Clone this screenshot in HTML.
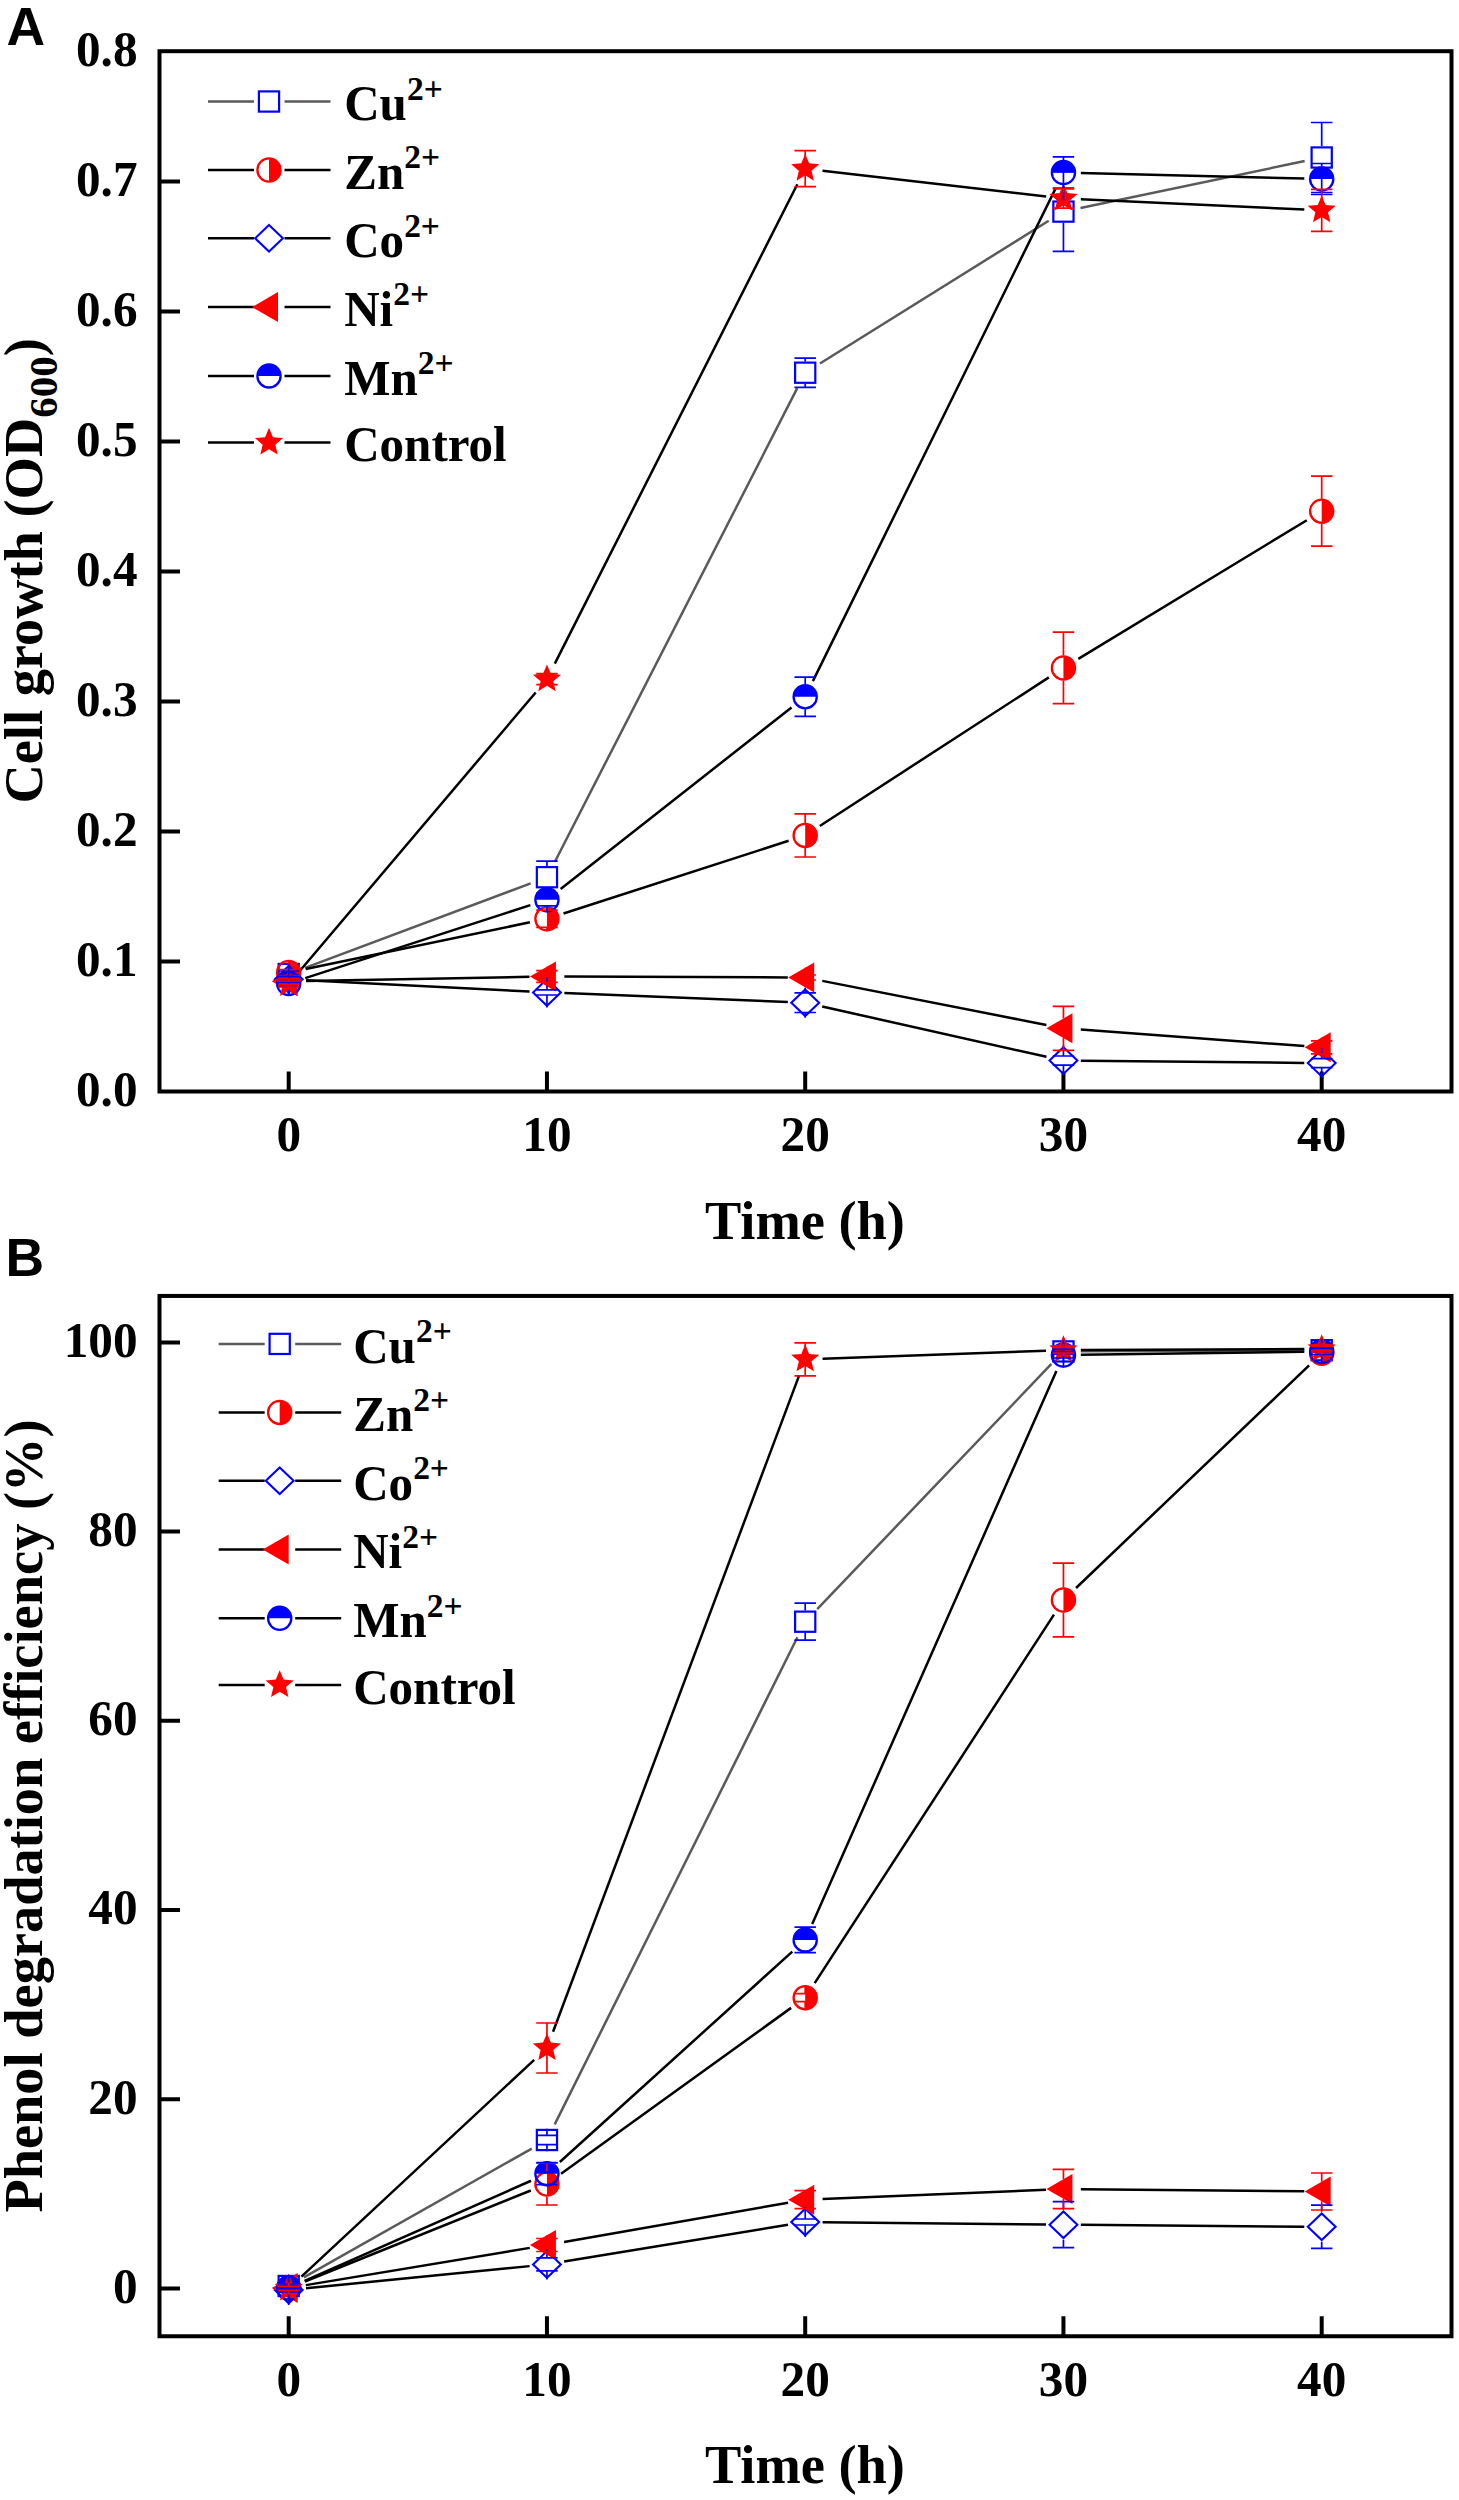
<!DOCTYPE html>
<html><head><meta charset="utf-8"><style>
html,body{margin:0;padding:0;background:#fff;}
svg{display:block;}
.tl{font-family:"Liberation Serif",serif;font-weight:bold;font-size:50.5px;}
.ti{font-family:"Liberation Serif",serif;font-weight:bold;font-size:54.4px;}
.lg{font-family:"Liberation Serif",serif;font-weight:bold;font-size:49.8px;}
.sup{font-weight:bold;font-size:34px;}
.sub{font-size:41px;font-weight:bold;}
.pl{font-family:"Liberation Sans",sans-serif;font-weight:bold;font-size:53.5px;}
</style></head><body>
<svg width="1459" height="2500" viewBox="0 0 1459 2500">
<rect width="1459" height="2500" fill="#fff"/>
<text x="6.5" y="45" class="pl">A</text>
<text x="5.5" y="1275.5" class="pl">B</text>
<rect x="159.5" y="51.2" width="1292" height="1040.3" fill="none" stroke="#000" stroke-width="4" stroke-linejoin="miter"/>
<path d="M288.7 1091.5V1071.5M546.95 1091.5V1071.5M805.2 1091.5V1071.5M1063.45 1091.5V1071.5M1321.7 1091.5V1071.5M159.5 961.5H180M159.5 831.5H180M159.5 701.5H180M159.5 571.5H180M159.5 441.5H180M159.5 311.5H180M159.5 181.5H180" stroke="#000" stroke-width="4" fill="none"/>
<text transform="matrix(0.975 0 0 1 288.7 1151.3)" class="tl" text-anchor="middle">0</text>
<text transform="matrix(0.975 0 0 1 546.95 1151.3)" class="tl" text-anchor="middle">10</text>
<text transform="matrix(0.975 0 0 1 805.2 1151.3)" class="tl" text-anchor="middle">20</text>
<text transform="matrix(0.975 0 0 1 1063.45 1151.3)" class="tl" text-anchor="middle">30</text>
<text transform="matrix(0.975 0 0 1 1321.7 1151.3)" class="tl" text-anchor="middle">40</text>
<text transform="matrix(0.975 0 0 1 137.5 1105.8)" class="tl" text-anchor="end">0.0</text>
<text transform="matrix(0.975 0 0 1 137.5 975.8)" class="tl" text-anchor="end">0.1</text>
<text transform="matrix(0.975 0 0 1 137.5 845.8)" class="tl" text-anchor="end">0.2</text>
<text transform="matrix(0.975 0 0 1 137.5 715.8)" class="tl" text-anchor="end">0.3</text>
<text transform="matrix(0.975 0 0 1 137.5 585.8)" class="tl" text-anchor="end">0.4</text>
<text transform="matrix(0.975 0 0 1 137.5 455.8)" class="tl" text-anchor="end">0.5</text>
<text transform="matrix(0.975 0 0 1 137.5 325.8)" class="tl" text-anchor="end">0.6</text>
<text transform="matrix(0.975 0 0 1 137.5 195.8)" class="tl" text-anchor="end">0.7</text>
<text transform="matrix(0.975 0 0 1 137.5 65.8)" class="tl" text-anchor="end">0.8</text>
<text x="805" y="1238.7" class="ti" text-anchor="middle">Time (h)</text>
<text transform="translate(41.8 570.9) rotate(-90)" class="ti" text-anchor="middle">Cell growth (OD<tspan class="sub" dy="14.7">600</tspan><tspan dy="-14.7">)</tspan></text>
<path d="M208 101.5H254M284.5 101.5H330.5" stroke="#5a5a5a" stroke-width="2.5" fill="none"/>
<rect x="258.9" y="91.4" width="20.2" height="20.2" fill="none" stroke="#0000ff" stroke-width="2.2"/>
<text transform="matrix(0.985 0 0 1 344.2 120.3)" class="lg">Cu<tspan class="sup" dy="-20.5">2+</tspan></text>
<path d="M208 170H254M284.5 170H330.5" stroke="#000000" stroke-width="2.5" fill="none"/>
<path d="M269 158.4 A11.6 11.6 0 0 1 269 181.6Z" fill="#ff0000"/><circle cx="269" cy="170" r="11.6" fill="none" stroke="#ff0000" stroke-width="2.3"/>
<text transform="matrix(0.985 0 0 1 344.2 188.8)" class="lg">Zn<tspan class="sup" dy="-20.5">2+</tspan></text>
<path d="M208 238.3H254M284.5 238.3H330.5" stroke="#000000" stroke-width="2.5" fill="none"/>
<path d="M269 225L282.9 238.3L269 251.6L255.1 238.3Z" fill="none" stroke="#0000ff" stroke-width="2.1"/>
<text transform="matrix(0.985 0 0 1 344.2 257.1)" class="lg">Co<tspan class="sup" dy="-20.5">2+</tspan></text>
<path d="M208 307.1H254M284.5 307.1H330.5" stroke="#000000" stroke-width="2.5" fill="none"/>
<path d="M252 307.1L278 292.1L278 322.1Z" fill="#ff0000"/>
<text transform="matrix(0.985 0 0 1 344.2 325.9)" class="lg">Ni<tspan class="sup" dy="-20.5">2+</tspan></text>
<path d="M208 375.9H254M284.5 375.9H330.5" stroke="#000000" stroke-width="2.5" fill="none"/>
<path d="M257.4 375.9 A11.6 11.6 0 0 1 280.6 375.9Z" fill="#0000ff"/><circle cx="269" cy="375.9" r="11.6" fill="none" stroke="#0000ff" stroke-width="2.3"/>
<text transform="matrix(0.985 0 0 1 344.2 394.7)" class="lg">Mn<tspan class="sup" dy="-20.5">2+</tspan></text>
<path d="M208 442.6H254M284.5 442.6H330.5" stroke="#000000" stroke-width="2.5" fill="none"/>
<path d="M269 427.8L272.91 437.21L283.08 438.03L275.33 444.66L277.7 454.57L269 449.26L260.3 454.57L262.67 444.66L254.92 438.03L265.09 437.21Z" fill="#ff0000"/>
<text transform="matrix(0.985 0 0 1 344.2 461.4)" class="lg">Control</text>
<path d="M304.99 967.89L530.66 883.31M554.88 861.71L797.27 388.19M819.96 363.49L1048.69 220.81M1080.48 208.03L1304.67 161.07" stroke="#5a5a5a" stroke-width="2.5" fill="none"/>
<path d="M305.74 968.96L529.91 922.34M563.51 913.45L788.64 840.75M819.8 825.93L1048.85 677.37M1078.33 658.87L1306.82 520.23" stroke="#000000" stroke-width="2.5" fill="none"/>
<path d="M306.08 980.18L529.57 991.52M564.34 993.09L787.81 1002.01M822.18 1006.51L1046.47 1056.79M1080.85 1060.77L1304.3 1062.93" stroke="#000000" stroke-width="2.5" fill="none"/>
<path d="M306.1 980.98L529.55 976.82M564.35 976.57L787.8 977.43M822.27 980.86L1046.38 1024.94M1080.8 1029.58L1304.35 1046.02" stroke="#000000" stroke-width="2.5" fill="none"/>
<path d="M305.25 978.14L530.4 905.16M560.63 889.04L791.52 707.46M812.89 681.09L1055.76 188.11M1080.84 172.94L1304.31 178.56" stroke="#000000" stroke-width="2.5" fill="none"/>
<path d="M299.95 970.72L535.7 692.48M554.8 663.67L797.35 184.23M822.49 170.69L1046.16 196.51M1080.83 199.29L1304.32 209.51" stroke="#000000" stroke-width="2.5" fill="none"/>
<rect x="278.6" y="963.9" width="20.2" height="20.2" fill="none" stroke="#0000ff" stroke-width="2.2"/>
<rect x="536.85" y="867.1" width="20.2" height="20.2" fill="none" stroke="#0000ff" stroke-width="2.2"/>
<rect x="795.1" y="362.6" width="20.2" height="20.2" fill="none" stroke="#0000ff" stroke-width="2.2"/>
<rect x="1053.35" y="201.5" width="20.2" height="20.2" fill="none" stroke="#0000ff" stroke-width="2.2"/>
<rect x="1311.6" y="147.4" width="20.2" height="20.2" fill="none" stroke="#0000ff" stroke-width="2.2"/>
<path d="M288.7 960.9 A11.6 11.6 0 0 1 288.7 984.1Z" fill="#ff0000"/><circle cx="288.7" cy="972.5" r="11.6" fill="none" stroke="#ff0000" stroke-width="2.3"/>
<path d="M546.95 907.2 A11.6 11.6 0 0 1 546.95 930.4Z" fill="#ff0000"/><circle cx="546.95" cy="918.8" r="11.6" fill="none" stroke="#ff0000" stroke-width="2.3"/>
<path d="M805.2 823.8 A11.6 11.6 0 0 1 805.2 847Z" fill="#ff0000"/><circle cx="805.2" cy="835.4" r="11.6" fill="none" stroke="#ff0000" stroke-width="2.3"/>
<path d="M1063.45 656.3 A11.6 11.6 0 0 1 1063.45 679.5Z" fill="#ff0000"/><circle cx="1063.45" cy="667.9" r="11.6" fill="none" stroke="#ff0000" stroke-width="2.3"/>
<path d="M1321.7 499.6 A11.6 11.6 0 0 1 1321.7 522.8Z" fill="#ff0000"/><circle cx="1321.7" cy="511.2" r="11.6" fill="none" stroke="#ff0000" stroke-width="2.3"/>
<path d="M288.7 966L302.6 979.3L288.7 992.6L274.8 979.3Z" fill="none" stroke="#0000ff" stroke-width="2.1"/>
<path d="M546.95 979.1L560.85 992.4L546.95 1005.7L533.05 992.4Z" fill="none" stroke="#0000ff" stroke-width="2.1"/>
<path d="M805.2 989.4L819.1 1002.7L805.2 1016L791.3 1002.7Z" fill="none" stroke="#0000ff" stroke-width="2.1"/>
<path d="M1063.45 1047.3L1077.35 1060.6L1063.45 1073.9L1049.55 1060.6Z" fill="none" stroke="#0000ff" stroke-width="2.1"/>
<path d="M1321.7 1049.8L1335.6 1063.1L1321.7 1076.4L1307.8 1063.1Z" fill="none" stroke="#0000ff" stroke-width="2.1"/>
<path d="M271.7 981.3L297.7 966.3L297.7 996.3Z" fill="#ff0000"/>
<path d="M529.95 976.5L555.95 961.5L555.95 991.5Z" fill="#ff0000"/>
<path d="M788.2 977.5L814.2 962.5L814.2 992.5Z" fill="#ff0000"/>
<path d="M1046.45 1028.3L1072.45 1013.3L1072.45 1043.3Z" fill="#ff0000"/>
<path d="M1304.7 1047.3L1330.7 1032.3L1330.7 1062.3Z" fill="#ff0000"/>
<path d="M277.1 983.5 A11.6 11.6 0 0 1 300.3 983.5Z" fill="#0000ff"/><circle cx="288.7" cy="983.5" r="11.6" fill="none" stroke="#0000ff" stroke-width="2.3"/>
<path d="M535.35 899.8 A11.6 11.6 0 0 1 558.55 899.8Z" fill="#0000ff"/><circle cx="546.95" cy="899.8" r="11.6" fill="none" stroke="#0000ff" stroke-width="2.3"/>
<path d="M793.6 696.7 A11.6 11.6 0 0 1 816.8 696.7Z" fill="#0000ff"/><circle cx="805.2" cy="696.7" r="11.6" fill="none" stroke="#0000ff" stroke-width="2.3"/>
<path d="M1051.85 172.5 A11.6 11.6 0 0 1 1075.05 172.5Z" fill="#0000ff"/><circle cx="1063.45" cy="172.5" r="11.6" fill="none" stroke="#0000ff" stroke-width="2.3"/>
<path d="M1310.1 179 A11.6 11.6 0 0 1 1333.3 179Z" fill="#0000ff"/><circle cx="1321.7" cy="179" r="11.6" fill="none" stroke="#0000ff" stroke-width="2.3"/>
<path d="M288.7 969.2L292.61 978.61L302.78 979.43L295.03 986.06L297.4 995.97L288.7 990.66L280 995.97L282.37 986.06L274.62 979.43L284.79 978.61Z" fill="#ff0000"/>
<path d="M546.95 664.4L550.86 673.81L561.03 674.63L553.28 681.26L555.65 691.17L546.95 685.86L538.25 691.17L540.62 681.26L532.87 674.63L543.04 673.81Z" fill="#ff0000"/>
<path d="M805.2 153.9L809.11 163.31L819.28 164.13L811.53 170.76L813.9 180.67L805.2 175.36L796.5 180.67L798.87 170.76L791.12 164.13L801.29 163.31Z" fill="#ff0000"/>
<path d="M1063.45 183.7L1067.36 193.11L1077.53 193.93L1069.78 200.56L1072.15 210.47L1063.45 205.16L1054.75 210.47L1057.12 200.56L1049.37 193.93L1059.54 193.11Z" fill="#ff0000"/>
<path d="M1321.7 195.5L1325.61 204.91L1335.78 205.73L1328.03 212.36L1330.4 222.27L1321.7 216.96L1313 222.27L1315.37 212.36L1307.62 205.73L1317.79 204.91Z" fill="#ff0000"/>
<path d="M288.7 962.7V971M288.7 985.3V977M277.95 971H299.45M277.95 977H299.45" stroke="#0000ff" stroke-width="1.7" fill="none"/>
<path d="M546.95 865.9V861.2M546.95 888.5V893.2M536.2 861.2H557.7M536.2 893.2H557.7" stroke="#0000ff" stroke-width="1.7" fill="none"/>
<path d="M805.2 361.4V358.1M805.2 384V387.3M794.45 358.1H815.95M794.45 387.3H815.95" stroke="#0000ff" stroke-width="1.7" fill="none"/>
<path d="M1063.45 200.3V171.8M1063.45 222.9V251.4M1052.7 171.8H1074.2M1052.7 251.4H1074.2" stroke="#0000ff" stroke-width="1.7" fill="none"/>
<path d="M1321.7 146.2V122.5M1321.7 168.8V192.5M1310.95 122.5H1332.45M1310.95 192.5H1332.45" stroke="#0000ff" stroke-width="1.7" fill="none"/>
<path d="M288.7 960V969.5M288.7 985V975.5M277.95 969.5H299.45M277.95 975.5H299.45" stroke="#ff0000" stroke-width="1.7" fill="none"/>
<path d="M546.95 906.3V910.2M546.95 931.3V927.4M536.2 910.2H557.7M536.2 927.4H557.7" stroke="#ff0000" stroke-width="1.7" fill="none"/>
<path d="M805.2 822.9V813.8M805.2 847.9V857M794.45 813.8H815.95M794.45 857H815.95" stroke="#ff0000" stroke-width="1.7" fill="none"/>
<path d="M1063.45 655.4V632.1M1063.45 680.4V703.7M1052.7 632.1H1074.2M1052.7 703.7H1074.2" stroke="#ff0000" stroke-width="1.7" fill="none"/>
<path d="M1321.7 498.7V476.2M1321.7 523.7V546.2M1310.95 476.2H1332.45M1310.95 546.2H1332.45" stroke="#ff0000" stroke-width="1.7" fill="none"/>
<path d="M288.7 964.3V976.3M288.7 994.3V982.3M277.95 976.3H299.45M277.95 982.3H299.45" stroke="#0000ff" stroke-width="1.7" fill="none"/>
<path d="M546.95 977.4V989.8M546.95 1007.4V995M536.2 989.8H557.7M536.2 995H557.7" stroke="#0000ff" stroke-width="1.7" fill="none"/>
<path d="M805.2 987.7V992.9M805.2 1017.7V1012.5M794.45 992.9H815.95M794.45 1012.5H815.95" stroke="#0000ff" stroke-width="1.7" fill="none"/>
<path d="M1063.45 1045.6V1056M1063.45 1075.6V1065.2M1052.7 1056H1074.2M1052.7 1065.2H1074.2" stroke="#0000ff" stroke-width="1.7" fill="none"/>
<path d="M1321.7 1048.1V1058.6M1321.7 1078.1V1067.6M1310.95 1058.6H1332.45M1310.95 1067.6H1332.45" stroke="#0000ff" stroke-width="1.7" fill="none"/>
<path d="M288.7 971.5V978.3M288.7 991.1V984.3M277.95 978.3H299.45M277.95 984.3H299.45" stroke="#ff0000" stroke-width="1.7" fill="none"/>
<path d="M546.95 966.7V970.7M546.95 986.3V982.3M536.2 970.7H557.7M536.2 982.3H557.7" stroke="#ff0000" stroke-width="1.7" fill="none"/>
<path d="M805.2 967.7V975M805.2 987.3V980M794.45 975H815.95M794.45 980H815.95" stroke="#ff0000" stroke-width="1.7" fill="none"/>
<path d="M1063.45 1018.5V1006.3M1063.45 1038.1V1050.3M1052.7 1006.3H1074.2M1052.7 1050.3H1074.2" stroke="#ff0000" stroke-width="1.7" fill="none"/>
<path d="M1321.7 1037.5V1040.8M1321.7 1057.1V1053.8M1310.95 1040.8H1332.45M1310.95 1053.8H1332.45" stroke="#ff0000" stroke-width="1.7" fill="none"/>
<path d="M288.7 971V980.5M288.7 996V986.5M277.95 980.5H299.45M277.95 986.5H299.45" stroke="#0000ff" stroke-width="1.7" fill="none"/>
<path d="M546.95 887.3V893.8M546.95 912.3V905.8M536.2 893.8H557.7M536.2 905.8H557.7" stroke="#0000ff" stroke-width="1.7" fill="none"/>
<path d="M805.2 684.2V677.1M805.2 709.2V716.3M794.45 677.1H815.95M794.45 716.3H815.95" stroke="#0000ff" stroke-width="1.7" fill="none"/>
<path d="M1063.45 160V156.9M1063.45 185V188.1M1052.7 156.9H1074.2M1052.7 188.1H1074.2" stroke="#0000ff" stroke-width="1.7" fill="none"/>
<path d="M1321.7 166.5V163.5M1321.7 191.5V194.5M1310.95 163.5H1332.45M1310.95 194.5H1332.45" stroke="#0000ff" stroke-width="1.7" fill="none"/>
<path d="M288.7 978V981M288.7 990V987M277.95 981H299.45M277.95 987H299.45" stroke="#ff0000" stroke-width="1.7" fill="none"/>
<path d="M546.95 673.2V673.7M546.95 685.2V684.7M536.2 673.7H557.7M536.2 684.7H557.7" stroke="#ff0000" stroke-width="1.7" fill="none"/>
<path d="M805.2 162.7V150.7M805.2 174.7V186.7M794.45 150.7H815.95M794.45 186.7H815.95" stroke="#ff0000" stroke-width="1.7" fill="none"/>
<path d="M1063.45 192.5V188.9M1063.45 204.5V208.1M1052.7 188.9H1074.2M1052.7 208.1H1074.2" stroke="#ff0000" stroke-width="1.7" fill="none"/>
<path d="M1321.7 204.3V189.3M1321.7 216.3V231.3M1310.95 189.3H1332.45M1310.95 231.3H1332.45" stroke="#ff0000" stroke-width="1.7" fill="none"/>
<rect x="159.5" y="1295.95" width="1292" height="1040.3" fill="none" stroke="#000" stroke-width="4" stroke-linejoin="miter"/>
<path d="M288.7 2336.25V2316.25M546.95 2336.25V2316.25M805.2 2336.25V2316.25M1063.45 2336.25V2316.25M1321.7 2336.25V2316.25M159.5 2288.5H180M159.5 2099.28H180M159.5 1910.06H180M159.5 1720.84H180M159.5 1531.62H180M159.5 1342.4H180" stroke="#000" stroke-width="4" fill="none"/>
<text transform="matrix(0.975 0 0 1 288.7 2396.05)" class="tl" text-anchor="middle">0</text>
<text transform="matrix(0.975 0 0 1 546.95 2396.05)" class="tl" text-anchor="middle">10</text>
<text transform="matrix(0.975 0 0 1 805.2 2396.05)" class="tl" text-anchor="middle">20</text>
<text transform="matrix(0.975 0 0 1 1063.45 2396.05)" class="tl" text-anchor="middle">30</text>
<text transform="matrix(0.975 0 0 1 1321.7 2396.05)" class="tl" text-anchor="middle">40</text>
<text transform="matrix(0.975 0 0 1 137.5 2302.8)" class="tl" text-anchor="end">0</text>
<text transform="matrix(0.975 0 0 1 137.5 2113.58)" class="tl" text-anchor="end">20</text>
<text transform="matrix(0.975 0 0 1 137.5 1924.36)" class="tl" text-anchor="end">40</text>
<text transform="matrix(0.975 0 0 1 137.5 1735.14)" class="tl" text-anchor="end">60</text>
<text transform="matrix(0.975 0 0 1 137.5 1545.92)" class="tl" text-anchor="end">80</text>
<text transform="matrix(0.975 0 0 1 137.5 1356.7)" class="tl" text-anchor="end">100</text>
<text x="805" y="2483.45" class="ti" text-anchor="middle">Time (h)</text>
<text transform="translate(41.8 1816) rotate(-90)" class="ti" text-anchor="middle">Phenol degradation efficiency (%)</text>
<path d="M218.7 1343.9H264.7M295.2 1343.9H341.2" stroke="#5a5a5a" stroke-width="2.5" fill="none"/>
<rect x="269.6" y="1333.8" width="20.2" height="20.2" fill="none" stroke="#0000ff" stroke-width="2.2"/>
<text transform="matrix(0.985 0 0 1 353.2 1362.7)" class="lg">Cu<tspan class="sup" dy="-20.5">2+</tspan></text>
<path d="M218.7 1412.4H264.7M295.2 1412.4H341.2" stroke="#000000" stroke-width="2.5" fill="none"/>
<path d="M279.7 1400.8 A11.6 11.6 0 0 1 279.7 1424Z" fill="#ff0000"/><circle cx="279.7" cy="1412.4" r="11.6" fill="none" stroke="#ff0000" stroke-width="2.3"/>
<text transform="matrix(0.985 0 0 1 353.2 1431.2)" class="lg">Zn<tspan class="sup" dy="-20.5">2+</tspan></text>
<path d="M218.7 1480.7H264.7M295.2 1480.7H341.2" stroke="#000000" stroke-width="2.5" fill="none"/>
<path d="M279.7 1467.4L293.6 1480.7L279.7 1494L265.8 1480.7Z" fill="none" stroke="#0000ff" stroke-width="2.1"/>
<text transform="matrix(0.985 0 0 1 353.2 1499.5)" class="lg">Co<tspan class="sup" dy="-20.5">2+</tspan></text>
<path d="M218.7 1549.5H264.7M295.2 1549.5H341.2" stroke="#000000" stroke-width="2.5" fill="none"/>
<path d="M262.7 1549.5L288.7 1534.5L288.7 1564.5Z" fill="#ff0000"/>
<text transform="matrix(0.985 0 0 1 353.2 1568.3)" class="lg">Ni<tspan class="sup" dy="-20.5">2+</tspan></text>
<path d="M218.7 1618.3H264.7M295.2 1618.3H341.2" stroke="#000000" stroke-width="2.5" fill="none"/>
<path d="M268.1 1618.3 A11.6 11.6 0 0 1 291.3 1618.3Z" fill="#0000ff"/><circle cx="279.7" cy="1618.3" r="11.6" fill="none" stroke="#0000ff" stroke-width="2.3"/>
<text transform="matrix(0.985 0 0 1 353.2 1637.1)" class="lg">Mn<tspan class="sup" dy="-20.5">2+</tspan></text>
<path d="M218.7 1685H264.7M295.2 1685H341.2" stroke="#000000" stroke-width="2.5" fill="none"/>
<path d="M279.7 1670.2L283.61 1679.61L293.78 1680.43L286.03 1687.06L288.4 1696.97L279.7 1691.66L271 1696.97L273.37 1687.06L265.62 1680.43L275.79 1679.61Z" fill="#ff0000"/>
<text transform="matrix(0.985 0 0 1 353.2 1703.8)" class="lg">Control</text>
<path d="M303.85 2277.44L531.8 2148.56M554.71 2124.43L797.44 1637.27M817.22 1609.12L1051.43 1363.98M1080.85 1351.32L1304.3 1350.28" stroke="#5a5a5a" stroke-width="2.5" fill="none"/>
<path d="M304.84 2281.5L530.81 2190.5M561.06 2173.82L791.09 2007.88M814.68 1983.11L1053.97 1614.59M1076.03 1587.98L1309.12 1365.32" stroke="#000000" stroke-width="2.5" fill="none"/>
<path d="M306.02 2288.28L529.63 2266.12M564.12 2261.58L788.03 2224.82M822.6 2222.18L1046.05 2224.52M1080.85 2224.84L1304.3 2226.66" stroke="#000000" stroke-width="2.5" fill="none"/>
<path d="M305.86 2285.14L529.79 2247.86M564.09 2241.99L788.06 2202.71M822.59 2198.98L1046.06 2189.72M1080.85 2189.17L1304.3 2191.33" stroke="#000000" stroke-width="2.5" fill="none"/>
<path d="M304.61 2280.96L531.04 2180.74M559.85 2162.02L792.3 1951.58M812.23 1923.98L1056.42 1370.92M1080.85 1354.76L1304.3 1351.74" stroke="#000000" stroke-width="2.5" fill="none"/>
<path d="M301.43 2276.64L534.22 2059.86M553.06 2031.71L799.09 1375.59M822.59 1358.67L1046.06 1350.63M1080.85 1349.93L1304.3 1349.07" stroke="#000000" stroke-width="2.5" fill="none"/>
<rect x="278.6" y="2275.9" width="20.2" height="20.2" fill="none" stroke="#0000ff" stroke-width="2.2"/>
<rect x="536.85" y="2129.9" width="20.2" height="20.2" fill="none" stroke="#0000ff" stroke-width="2.2"/>
<rect x="795.1" y="1611.6" width="20.2" height="20.2" fill="none" stroke="#0000ff" stroke-width="2.2"/>
<rect x="1053.35" y="1341.3" width="20.2" height="20.2" fill="none" stroke="#0000ff" stroke-width="2.2"/>
<rect x="1311.6" y="1340.1" width="20.2" height="20.2" fill="none" stroke="#0000ff" stroke-width="2.2"/>
<path d="M288.7 2276.4 A11.6 11.6 0 0 1 288.7 2299.6Z" fill="#ff0000"/><circle cx="288.7" cy="2288" r="11.6" fill="none" stroke="#ff0000" stroke-width="2.3"/>
<path d="M546.95 2172.4 A11.6 11.6 0 0 1 546.95 2195.6Z" fill="#ff0000"/><circle cx="546.95" cy="2184" r="11.6" fill="none" stroke="#ff0000" stroke-width="2.3"/>
<path d="M805.2 1986.1 A11.6 11.6 0 0 1 805.2 2009.3Z" fill="#ff0000"/><circle cx="805.2" cy="1997.7" r="11.6" fill="none" stroke="#ff0000" stroke-width="2.3"/>
<path d="M1063.45 1588.4 A11.6 11.6 0 0 1 1063.45 1611.6Z" fill="#ff0000"/><circle cx="1063.45" cy="1600" r="11.6" fill="none" stroke="#ff0000" stroke-width="2.3"/>
<path d="M1321.7 1341.7 A11.6 11.6 0 0 1 1321.7 1364.9Z" fill="#ff0000"/><circle cx="1321.7" cy="1353.3" r="11.6" fill="none" stroke="#ff0000" stroke-width="2.3"/>
<path d="M288.7 2276.7L302.6 2290L288.7 2303.3L274.8 2290Z" fill="none" stroke="#0000ff" stroke-width="2.1"/>
<path d="M546.95 2251.1L560.85 2264.4L546.95 2277.7L533.05 2264.4Z" fill="none" stroke="#0000ff" stroke-width="2.1"/>
<path d="M805.2 2208.7L819.1 2222L805.2 2235.3L791.3 2222Z" fill="none" stroke="#0000ff" stroke-width="2.1"/>
<path d="M1063.45 2211.4L1077.35 2224.7L1063.45 2238L1049.55 2224.7Z" fill="none" stroke="#0000ff" stroke-width="2.1"/>
<path d="M1321.7 2213.5L1335.6 2226.8L1321.7 2240.1L1307.8 2226.8Z" fill="none" stroke="#0000ff" stroke-width="2.1"/>
<path d="M271.7 2288L297.7 2273L297.7 2303Z" fill="#ff0000"/>
<path d="M529.95 2245L555.95 2230L555.95 2260Z" fill="#ff0000"/>
<path d="M788.2 2199.7L814.2 2184.7L814.2 2214.7Z" fill="#ff0000"/>
<path d="M1046.45 2189L1072.45 2174L1072.45 2204Z" fill="#ff0000"/>
<path d="M1304.7 2191.5L1330.7 2176.5L1330.7 2206.5Z" fill="#ff0000"/>
<path d="M277.1 2288 A11.6 11.6 0 0 1 300.3 2288Z" fill="#0000ff"/><circle cx="288.7" cy="2288" r="11.6" fill="none" stroke="#0000ff" stroke-width="2.3"/>
<path d="M535.35 2173.7 A11.6 11.6 0 0 1 558.55 2173.7Z" fill="#0000ff"/><circle cx="546.95" cy="2173.7" r="11.6" fill="none" stroke="#0000ff" stroke-width="2.3"/>
<path d="M793.6 1939.9 A11.6 11.6 0 0 1 816.8 1939.9Z" fill="#0000ff"/><circle cx="805.2" cy="1939.9" r="11.6" fill="none" stroke="#0000ff" stroke-width="2.3"/>
<path d="M1051.85 1355 A11.6 11.6 0 0 1 1075.05 1355Z" fill="#0000ff"/><circle cx="1063.45" cy="1355" r="11.6" fill="none" stroke="#0000ff" stroke-width="2.3"/>
<path d="M1310.1 1351.5 A11.6 11.6 0 0 1 1333.3 1351.5Z" fill="#0000ff"/><circle cx="1321.7" cy="1351.5" r="11.6" fill="none" stroke="#0000ff" stroke-width="2.3"/>
<path d="M288.7 2273.7L292.61 2283.11L302.78 2283.93L295.03 2290.56L297.4 2300.47L288.7 2295.16L280 2300.47L282.37 2290.56L274.62 2283.93L284.79 2283.11Z" fill="#ff0000"/>
<path d="M546.95 2033.2L550.86 2042.61L561.03 2043.43L553.28 2050.06L555.65 2059.97L546.95 2054.66L538.25 2059.97L540.62 2050.06L532.87 2043.43L543.04 2042.61Z" fill="#ff0000"/>
<path d="M805.2 1344.5L809.11 1353.91L819.28 1354.73L811.53 1361.36L813.9 1371.27L805.2 1365.96L796.5 1371.27L798.87 1361.36L791.12 1354.73L801.29 1353.91Z" fill="#ff0000"/>
<path d="M1063.45 1335.2L1067.36 1344.61L1077.53 1345.43L1069.78 1352.06L1072.15 1361.97L1063.45 1356.66L1054.75 1361.97L1057.12 1352.06L1049.37 1345.43L1059.54 1344.61Z" fill="#ff0000"/>
<path d="M1321.7 1334.2L1325.61 1343.61L1335.78 1344.43L1328.03 1351.06L1330.4 1360.97L1321.7 1355.66L1313 1360.97L1315.37 1351.06L1307.62 1344.43L1317.79 1343.61Z" fill="#ff0000"/>
<path d="M288.7 2274.7V2284M288.7 2297.3V2288M277.95 2284H299.45M277.95 2288H299.45" stroke="#0000ff" stroke-width="1.7" fill="none"/>
<path d="M546.95 2128.7V2135.4M546.95 2151.3V2144.6M536.2 2135.4H557.7M536.2 2144.6H557.7" stroke="#0000ff" stroke-width="1.7" fill="none"/>
<path d="M805.2 1610.4V1603.2M805.2 1633V1640.2M794.45 1603.2H815.95M794.45 1640.2H815.95" stroke="#0000ff" stroke-width="1.7" fill="none"/>
<path d="M1063.45 1340.1V1349.4M1063.45 1362.7V1353.4M1052.7 1349.4H1074.2M1052.7 1353.4H1074.2" stroke="#0000ff" stroke-width="1.7" fill="none"/>
<path d="M1321.7 1338.9V1348.2M1321.7 1361.5V1352.2M1310.95 1348.2H1332.45M1310.95 1352.2H1332.45" stroke="#0000ff" stroke-width="1.7" fill="none"/>
<path d="M288.7 2275.5V2286M288.7 2300.5V2290M277.95 2286H299.45M277.95 2290H299.45" stroke="#ff0000" stroke-width="1.7" fill="none"/>
<path d="M546.95 2171.5V2163M546.95 2196.5V2205M536.2 2163H557.7M536.2 2205H557.7" stroke="#ff0000" stroke-width="1.7" fill="none"/>
<path d="M805.2 1985.2V1993.7M805.2 2010.2V2001.7M794.45 1993.7H815.95M794.45 2001.7H815.95" stroke="#ff0000" stroke-width="1.7" fill="none"/>
<path d="M1063.45 1587.5V1563.2M1063.45 1612.5V1636.8M1052.7 1563.2H1074.2M1052.7 1636.8H1074.2" stroke="#ff0000" stroke-width="1.7" fill="none"/>
<path d="M1321.7 1340.8V1350.3M1321.7 1365.8V1356.3M1310.95 1350.3H1332.45M1310.95 1356.3H1332.45" stroke="#ff0000" stroke-width="1.7" fill="none"/>
<path d="M288.7 2275V2288M288.7 2305V2292M277.95 2288H299.45M277.95 2292H299.45" stroke="#0000ff" stroke-width="1.7" fill="none"/>
<path d="M546.95 2249.4V2257.9M546.95 2279.4V2270.9M536.2 2257.9H557.7M536.2 2270.9H557.7" stroke="#0000ff" stroke-width="1.7" fill="none"/>
<path d="M805.2 2207V2219M805.2 2237V2225M794.45 2219H815.95M794.45 2225H815.95" stroke="#0000ff" stroke-width="1.7" fill="none"/>
<path d="M1063.45 2209.7V2201.7M1063.45 2239.7V2247.7M1052.7 2201.7H1074.2M1052.7 2247.7H1074.2" stroke="#0000ff" stroke-width="1.7" fill="none"/>
<path d="M1321.7 2211.8V2205.2M1321.7 2241.8V2248.4M1310.95 2205.2H1332.45M1310.95 2248.4H1332.45" stroke="#0000ff" stroke-width="1.7" fill="none"/>
<path d="M288.7 2278.2V2286M288.7 2297.8V2290M277.95 2286H299.45M277.95 2290H299.45" stroke="#ff0000" stroke-width="1.7" fill="none"/>
<path d="M546.95 2235.2V2238.5M546.95 2254.8V2251.5M536.2 2238.5H557.7M536.2 2251.5H557.7" stroke="#ff0000" stroke-width="1.7" fill="none"/>
<path d="M805.2 2189.9V2190.7M805.2 2209.5V2208.7M794.45 2190.7H815.95M794.45 2208.7H815.95" stroke="#ff0000" stroke-width="1.7" fill="none"/>
<path d="M1063.45 2179.2V2169.3M1063.45 2198.8V2208.7M1052.7 2169.3H1074.2M1052.7 2208.7H1074.2" stroke="#ff0000" stroke-width="1.7" fill="none"/>
<path d="M1321.7 2181.7V2173M1321.7 2201.3V2210M1310.95 2173H1332.45M1310.95 2210H1332.45" stroke="#ff0000" stroke-width="1.7" fill="none"/>
<path d="M288.7 2275.5V2286M288.7 2300.5V2290M277.95 2286H299.45M277.95 2290H299.45" stroke="#0000ff" stroke-width="1.7" fill="none"/>
<path d="M546.95 2161.2V2162.7M546.95 2186.2V2184.7M536.2 2162.7H557.7M536.2 2184.7H557.7" stroke="#0000ff" stroke-width="1.7" fill="none"/>
<path d="M805.2 1927.4V1927.1M805.2 1952.4V1952.7M794.45 1927.1H815.95M794.45 1952.7H815.95" stroke="#0000ff" stroke-width="1.7" fill="none"/>
<path d="M1063.45 1342.5V1352M1063.45 1367.5V1358M1052.7 1352H1074.2M1052.7 1358H1074.2" stroke="#0000ff" stroke-width="1.7" fill="none"/>
<path d="M1321.7 1339V1348.5M1321.7 1364V1354.5M1310.95 1348.5H1332.45M1310.95 1354.5H1332.45" stroke="#0000ff" stroke-width="1.7" fill="none"/>
<path d="M288.7 2282.5V2286.5M288.7 2294.5V2290.5M277.95 2286.5H299.45M277.95 2290.5H299.45" stroke="#ff0000" stroke-width="1.7" fill="none"/>
<path d="M546.95 2042V2023M546.95 2054V2073M536.2 2023H557.7M536.2 2073H557.7" stroke="#ff0000" stroke-width="1.7" fill="none"/>
<path d="M805.2 1353.3V1342.8M805.2 1365.3V1375.8M794.45 1342.8H815.95M794.45 1375.8H815.95" stroke="#ff0000" stroke-width="1.7" fill="none"/>
<path d="M1063.45 1344V1347M1063.45 1356V1353M1052.7 1347H1074.2M1052.7 1353H1074.2" stroke="#ff0000" stroke-width="1.7" fill="none"/>
<path d="M1321.7 1343V1346M1321.7 1355V1352M1310.95 1346H1332.45M1310.95 1352H1332.45" stroke="#ff0000" stroke-width="1.7" fill="none"/>
</svg>
</body></html>
